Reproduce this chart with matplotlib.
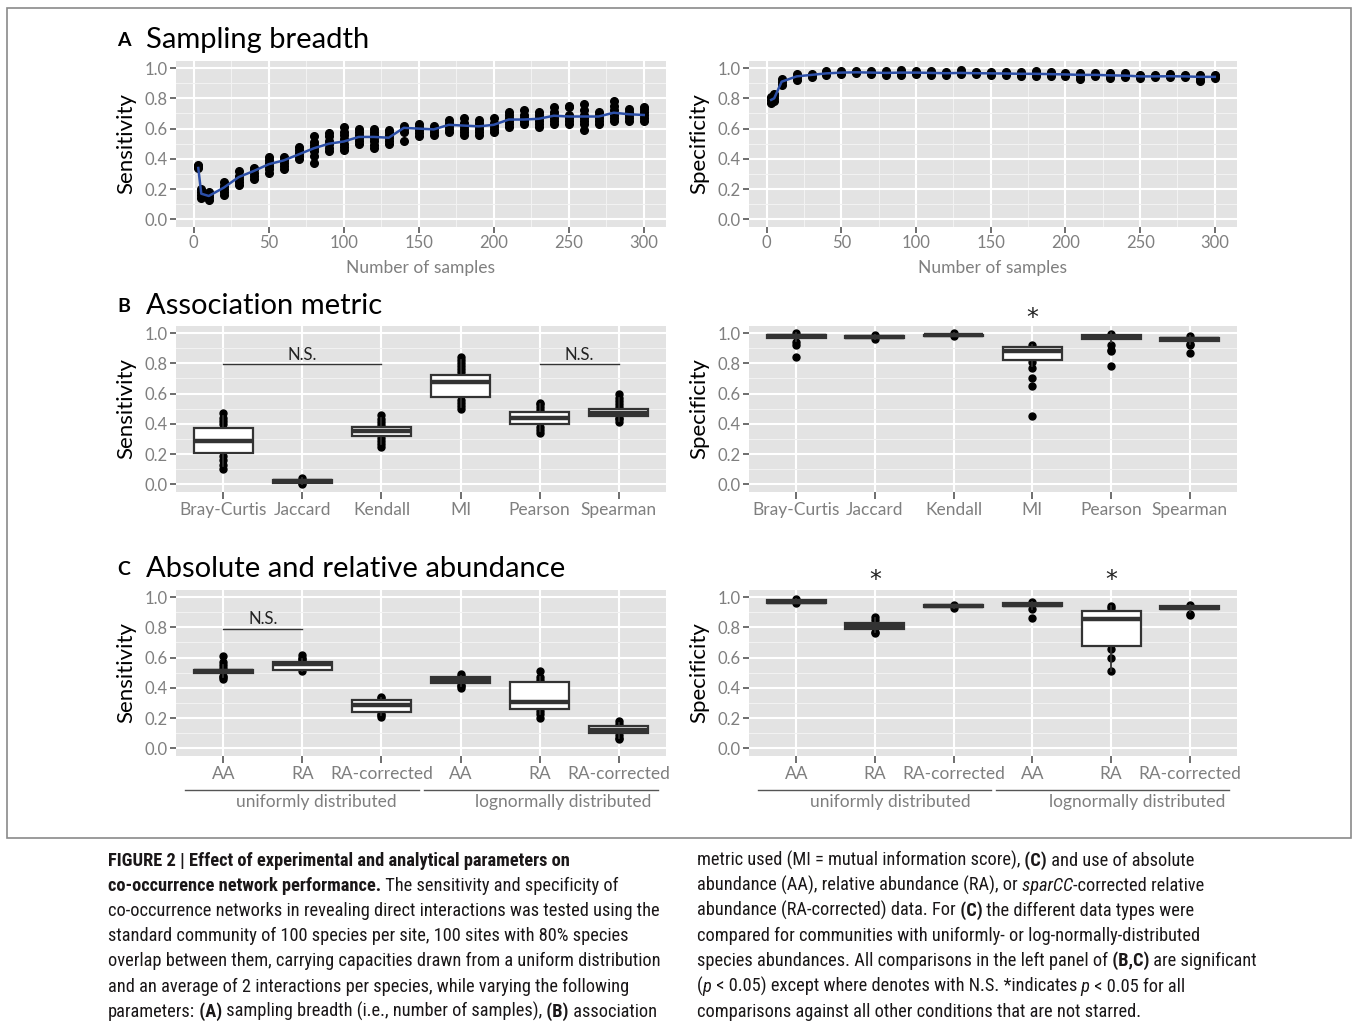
import matplotlib
matplotlib.use("Agg")
import matplotlib.pyplot as plt
import matplotlib.font_manager as fm
from matplotlib.patches import Rectangle
from matplotlib.ticker import MultipleLocator, FormatStrFormatter
import matplotlib.transforms as mtransforms

W, H = 1354, 1028
LABEL_FONT = ["Lato", "DejaVu Sans"]

# ---------------- data: panel A (sampling breadth) ----------------
n_samples = [3, 5, 10, 20, 30, 40, 50, 60, 70, 80, 90, 100, 110, 120, 130, 140,
             150, 160, 170, 180, 190, 200, 210, 220, 230, 240, 250, 260, 270, 280, 290, 300]

sens_mean = [0.34, 0.17, 0.155, 0.21, 0.28, 0.32, 0.365, 0.39, 0.43, 0.47, 0.50, 0.515,
             0.545, 0.545, 0.54, 0.605, 0.60, 0.595, 0.625, 0.62, 0.615, 0.625, 0.66, 0.66,
             0.665, 0.685, 0.68, 0.68, 0.68, 0.705, 0.695, 0.69]

sens_runs = [
    [0.34, 0.35, 0.36],
    [0.14, 0.16, 0.18, 0.20],
    [0.13, 0.15, 0.17, 0.18],
    [0.16, 0.18, 0.20, 0.22, 0.25],
    [0.23, 0.25, 0.27, 0.29, 0.32],
    [0.27, 0.29, 0.31, 0.33, 0.34],
    [0.31, 0.33, 0.35, 0.37, 0.39, 0.41],
    [0.33, 0.35, 0.37, 0.39, 0.41],
    [0.40, 0.42, 0.44, 0.46, 0.48],
    [0.37, 0.42, 0.45, 0.47, 0.49, 0.51, 0.55],
    [0.45, 0.47, 0.50, 0.52, 0.55, 0.57],
    [0.46, 0.48, 0.50, 0.53, 0.56, 0.58, 0.61],
    [0.50, 0.52, 0.54, 0.56, 0.58, 0.60],
    [0.47, 0.49, 0.52, 0.54, 0.56, 0.58, 0.60],
    [0.50, 0.52, 0.54, 0.56, 0.58, 0.59],
    [0.52, 0.58, 0.60, 0.62],
    [0.55, 0.57, 0.59, 0.61, 0.63],
    [0.56, 0.58, 0.60, 0.62],
    [0.58, 0.60, 0.62, 0.64, 0.66],
    [0.56, 0.58, 0.60, 0.62, 0.64, 0.67],
    [0.56, 0.58, 0.60, 0.62, 0.64, 0.66],
    [0.58, 0.60, 0.62, 0.64, 0.67],
    [0.61, 0.63, 0.65, 0.67, 0.69, 0.71],
    [0.63, 0.65, 0.67, 0.69, 0.72],
    [0.61, 0.63, 0.65, 0.67, 0.69, 0.71],
    [0.63, 0.65, 0.67, 0.69, 0.71, 0.74],
    [0.63, 0.65, 0.67, 0.69, 0.74, 0.75],
    [0.59, 0.63, 0.65, 0.67, 0.69, 0.72, 0.76],
    [0.63, 0.65, 0.67, 0.69, 0.71],
    [0.65, 0.67, 0.69, 0.72, 0.75, 0.78],
    [0.65, 0.67, 0.69, 0.71, 0.73],
    [0.65, 0.67, 0.69, 0.71, 0.73, 0.74],
]

spec_mean = [0.79, 0.80, 0.91, 0.945, 0.955, 0.965, 0.97, 0.972, 0.97, 0.968, 0.97, 0.97,
             0.968, 0.966, 0.968, 0.966, 0.965, 0.964, 0.962, 0.962, 0.96, 0.958, 0.955,
             0.955, 0.952, 0.95, 0.945, 0.945, 0.946, 0.945, 0.942, 0.942]

spec_runs = [
    [0.77, 0.79, 0.81],
    [0.78, 0.80, 0.82, 0.83],
    [0.89, 0.91, 0.93],
    [0.92, 0.94, 0.96],
    [0.94, 0.95, 0.96],
    [0.955, 0.965, 0.98],
    [0.96, 0.97, 0.98],
    [0.965, 0.975, 0.98],
    [0.96, 0.97, 0.98],
    [0.955, 0.965, 0.98],
    [0.955, 0.97, 0.985],
    [0.96, 0.97, 0.98],
    [0.955, 0.965, 0.98],
    [0.955, 0.965, 0.975],
    [0.96, 0.97, 0.985],
    [0.96, 0.965, 0.975],
    [0.955, 0.965, 0.975],
    [0.955, 0.965, 0.975],
    [0.95, 0.96, 0.975],
    [0.95, 0.965, 0.98],
    [0.95, 0.96, 0.975],
    [0.95, 0.96, 0.97],
    [0.93, 0.945, 0.96, 0.97],
    [0.945, 0.955, 0.965],
    [0.935, 0.95, 0.965],
    [0.94, 0.95, 0.965],
    [0.935, 0.945, 0.955],
    [0.94, 0.945, 0.955],
    [0.94, 0.95, 0.96],
    [0.94, 0.945, 0.955],
    [0.915, 0.93, 0.945, 0.955],
    [0.935, 0.945, 0.955],
]

# ---------------- data: panel B (association metric) ----------------
metrics = ["Bray-Curtis", "Jaccard", "Kendall", "MI", "Pearson", "Spearman"]

b_sens_q1 = [0.21, 0.010, 0.32, 0.58, 0.40, 0.45]
b_sens_med = [0.29, 0.020, 0.355, 0.68, 0.44, 0.47]
b_sens_q3 = [0.37, 0.030, 0.38, 0.72, 0.48, 0.50]
b_sens_lo = [0.12, 0.00, 0.27, 0.51, 0.35, 0.42]
b_sens_hi = [0.45, 0.04, 0.44, 0.82, 0.53, 0.57]
b_sens_pts = [
    [0.10, 0.13, 0.16, 0.19, 0.40, 0.42, 0.44, 0.47],
    [0.00, 0.01, 0.02, 0.03, 0.04],
    [0.25, 0.27, 0.29, 0.31, 0.39, 0.41, 0.43, 0.46],
    [0.50, 0.52, 0.54, 0.56, 0.74, 0.76, 0.78, 0.80, 0.82, 0.84],
    [0.34, 0.36, 0.38, 0.49, 0.51, 0.53, 0.54],
    [0.41, 0.43, 0.44, 0.51, 0.53, 0.55, 0.57, 0.60],
]

b_spec_q1 = [0.97, 0.970, 0.980, 0.82, 0.96, 0.95]
b_spec_med = [0.98, 0.975, 0.985, 0.88, 0.975, 0.96]
b_spec_q3 = [0.99, 0.980, 0.990, 0.91, 0.99, 0.97]
b_spec_lo = [0.95, 0.96, 0.98, 0.78, 0.94, 0.93]
b_spec_hi = [1.00, 0.99, 1.00, 0.92, 1.00, 0.98]
b_spec_pts = [
    [0.84, 0.92, 0.94, 1.00],
    [0.96, 0.99],
    [0.98, 1.00],
    [0.45, 0.65, 0.70, 0.77, 0.81, 0.92],
    [0.78, 0.88, 0.89, 0.92, 0.995],
    [0.87, 0.92, 0.93, 0.98],
]

# ---------------- data: panel C (absolute / relative abundance) ----------------
data_types = ["AA", "RA", "RA-corrected", "AA", "RA", "RA-corrected"]
distributions = ["uniformly distributed", "lognormally distributed"]

c_sens_q1 = [0.50, 0.52, 0.24, 0.43, 0.26, 0.10]
c_sens_med = [0.51, 0.555, 0.29, 0.45, 0.31, 0.12]
c_sens_q3 = [0.52, 0.57, 0.32, 0.47, 0.44, 0.15]
c_sens_lo = [0.47, 0.51, 0.22, 0.41, 0.23, 0.07]
c_sens_hi = [0.55, 0.59, 0.33, 0.48, 0.47, 0.17]
c_sens_pts = [
    [0.46, 0.47, 0.48, 0.53, 0.55, 0.57, 0.61],
    [0.51, 0.58, 0.59, 0.60, 0.62],
    [0.21, 0.22, 0.23, 0.33, 0.34],
    [0.40, 0.41, 0.42, 0.48, 0.49],
    [0.20, 0.23, 0.25, 0.45, 0.47, 0.51],
    [0.06, 0.07, 0.09, 0.16, 0.18],
]

c_spec_q1 = [0.96, 0.79, 0.935, 0.94, 0.68, 0.92]
c_spec_med = [0.97, 0.81, 0.94, 0.95, 0.855, 0.93]
c_spec_q3 = [0.98, 0.83, 0.95, 0.96, 0.91, 0.94]
c_spec_lo = [0.96, 0.77, 0.93, 0.92, 0.51, 0.90]
c_spec_hi = [0.99, 0.86, 0.95, 0.97, 0.94, 0.95]
c_spec_pts = [
    [0.96, 0.99],
    [0.76, 0.77, 0.85, 0.87],
    [0.93, 0.95],
    [0.86, 0.92, 0.97],
    [0.51, 0.60, 0.66, 0.93, 0.94],
    [0.88, 0.89, 0.95],
]

# ---------------- caption ----------------
caption_left = [
    [("FIGURE 2 | Effect of experimental and analytical parameters on", "b")],
    [("co-occurrence network performance.", "b"), (" The sensitivity and specificity of", "n")],
    [("co-occurrence networks in revealing direct interactions was tested using the", "n")],
    [("standard community of 100 species per site, 100 sites with 80% species", "n")],
    [("overlap between them, carrying capacities drawn from a uniform distribution", "n")],
    [("and an average of 2 interactions per species, while varying the following", "n")],
    [("parameters:", "n"), (" (A)", "b"), (" sampling breadth (i.e., number of samples),", "n"),
     (" (B)", "b"), (" association", "n")],
]
caption_right = [
    [("metric used (MI = mutual information score),", "n"), (" (C)", "b"),
     (" and use of absolute", "n")],
    [("abundance (AA), relative abundance (RA), or", "n"), (" sparCC", "i"),
     ("-corrected relative", "n")],
    [("abundance (RA-corrected) data. For", "n"), (" (C)", "b"),
     (" the different data types were", "n")],
    [("compared for communities with uniformly- or log-normally-distributed", "n")],
    [("species abundances. All comparisons in the left panel of", "n"), (" (B,C)", "b"),
     (" are significant", "n")],
    [("(", "n"), ("p", "i"), (" < 0.05) except where denotes with N.S. *indicates", "n"),
     (" p", "i"), (" < 0.05 for all", "n")],
    [("comparisons against all other conditions that are not starred.", "n")],
]


def pick_caption_font():
    # narrow sans for the caption, whichever is installed
    fonts = fm.fontManager.ttflist
    names = {f.name for f in fonts}
    for nm in ["Liberation Sans Narrow", "Roboto Condensed", "Open Sans Condensed",
               "Arial Narrow", "Nimbus Sans Narrow"]:
        if nm in names:
            return nm, "normal"
    for f in fonts:
        if f.name == "DejaVu Sans" and "condensed" in str(f.stretch):
            return "DejaVu Sans", "condensed"
    return "Roboto", "normal"


CAP_FAMILY, CAP_STRETCH = pick_caption_font()


def px_axes(fig, left, top, right, bottom):
    return fig.add_axes([left / W, 1 - bottom / H, (right - left) / W, (bottom - top) / H])


def gg_style(ax, ylabel):
    ax.set_facecolor("#E3E3E3")
    for s in ax.spines.values():
        s.set_visible(False)
    ax.set_axisbelow(True)
    ax.set_ylim(-0.05, 1.05)
    ax.yaxis.set_major_locator(MultipleLocator(0.2))
    ax.yaxis.set_minor_locator(MultipleLocator(0.1))
    ax.yaxis.set_major_formatter(FormatStrFormatter("%.1f"))
    ax.grid(True, which="major", color="white", lw=1.5)
    ax.grid(True, which="minor", color="#F2F2F2", lw=0.8)
    ax.tick_params(which="major", length=4, width=1.2, color="#555555",
                   labelcolor="#7F7F7F", labelsize=12, pad=2)
    ax.tick_params(which="minor", length=0)
    for lab in ax.get_xticklabels() + ax.get_yticklabels():
        lab.set_family(LABEL_FONT)
    ax.set_ylabel(ylabel, fontsize=16, family=LABEL_FONT, color="black", labelpad=6)


def scatter_panel(ax, x, runs, mean, ylabel):
    for xi, vals in zip(x, runs):
        ax.plot([xi] * len(vals), vals, "o", color="black", ms=5.5, zorder=2)
    ax.plot(x, mean, color="#2C4FA8", lw=1.8, zorder=3)
    ax.set_xlim(-11.85, 314.85)
    ax.xaxis.set_major_locator(MultipleLocator(50))
    ax.xaxis.set_minor_locator(MultipleLocator(25))
    gg_style(ax, ylabel)
    ax.set_xlabel("Number of samples", fontsize=12.5, color="#7F7F7F",
                  family=LABEL_FONT, labelpad=6)


def box_panel(ax, labels, q1, med, q3, lo, hi, pts, ylabel):
    pos = list(range(1, len(labels) + 1))
    for p, vals in zip(pos, pts):
        ax.plot([p] * len(vals), vals, "o", color="black", ms=5, zorder=2)
    stats = [dict(q1=a, med=m, q3=b, whislo=l, whishi=h, label=t)
             for a, m, b, l, h, t in zip(q1, med, q3, lo, hi, labels)]
    ax.bxp(stats, positions=pos, widths=0.75, patch_artist=True, showfliers=False,
           showcaps=False, manage_ticks=False, zorder=3,
           boxprops=dict(facecolor="white", edgecolor="#333333", linewidth=1.6),
           medianprops=dict(color="#333333", linewidth=3.2),
           whiskerprops=dict(color="#333333", linewidth=1.3))
    ax.set_xlim(0.4, len(labels) + 0.6)
    ax.set_xticks(pos)
    ax.set_xticklabels(labels)
    gg_style(ax, ylabel)
    ax.grid(False, axis="x", which="minor")
    ax.tick_params(axis="x", labelsize=12.5, length=5)


def ns_bar(ax, x0, x1, y):
    ax.plot([x0, x1], [y, y], color="#333333", lw=1, zorder=4)
    ax.text((x0 + x1) / 2, y + 0.01, "N.S.", ha="center", va="bottom", fontsize=12,
            family=LABEL_FONT, color="#222222")


def star(ax, x, y):
    ax.text(x, y, "*", ha="center", va="center", fontsize=17, family="DejaVu Sans",
            color="#222222", clip_on=False)


def group_lines(ax, text_x):
    tr = mtransforms.blended_transform_factory(ax.transData, ax.transAxes)
    for (x0, x1), tx, name in zip([(0.52, 3.47), (3.54, 6.5)], text_x, distributions):
        ax.plot([x0, x1], [-0.205, -0.205], transform=tr, color="#555555", lw=1,
                clip_on=False)
        ax.text(tx, -0.275, name, transform=tr, ha="center", va="center", fontsize=12.5,
                color="#7F7F7F", family=LABEL_FONT)


def caption_line(ax, x, y, segs, size):
    made = []
    prev = None
    for s, st in segs:
        kw = dict(fontsize=size, family=[CAP_FAMILY, "DejaVu Sans"], fontstretch=CAP_STRETCH,
                  color="#1A1718",
                  fontweight="bold" if st == "b" else "normal",
                  fontstyle="italic" if st == "i" else "normal")
        if prev is None:
            prev = ax.text(x, y, s, va="baseline", ha="left", **kw)
        else:
            prev = ax.annotate(s, xy=(1, 0), xycoords=prev, va="bottom", ha="left", **kw)
        made.append(prev)
    return made


def caption(fig, ax, size):
    made = []
    for i, segs in enumerate(caption_left):
        made.append(caption_line(ax, 108, 866 + 25.1 * i, segs, size))
    for i, segs in enumerate(caption_right):
        made.append(caption_line(ax, 697, 866 + 25.1 * i, segs, size))
    return made


fig = plt.figure(figsize=(W / 100, H / 100), dpi=100)
bg = fig.add_axes([0, 0, 1, 1])
bg.set_xlim(0, W)
bg.set_ylim(H, 0)
bg.axis("off")
bg.add_patch(Rectangle((7, 8), 1344, 830, fill=False, edgecolor="#8A8A8A", lw=1.2))

# panel titles
for letter, title, yb in [("A", "Sampling breadth", 48), ("B", "Association metric", 314),
                          ("C", "Absolute and relative abundance", 577)]:
    bg.text(117, yb - 2, letter, fontsize=14, fontweight="bold", family=LABEL_FONT,
            va="baseline")
    bg.text(146, yb, title, fontsize=21, family=LABEL_FONT, va="baseline")

axA1 = px_axes(fig, 176, 60.5, 666, 227)
scatter_panel(axA1, n_samples, sens_runs, sens_mean, "Sensitivity")
axA2 = px_axes(fig, 749, 60.5, 1237, 227)
scatter_panel(axA2, n_samples, spec_runs, spec_mean, "Specificity")

axB1 = px_axes(fig, 176, 325.5, 666, 492)
box_panel(axB1, metrics, b_sens_q1, b_sens_med, b_sens_q3, b_sens_lo, b_sens_hi,
          b_sens_pts, "Sensitivity")
ns_bar(axB1, 1, 3, 0.795)
ns_bar(axB1, 5, 6, 0.795)
axB2 = px_axes(fig, 749, 325.5, 1237, 492)
box_panel(axB2, metrics, b_spec_q1, b_spec_med, b_spec_q3, b_spec_lo, b_spec_hi,
          b_spec_pts, "Specificity")
star(axB2, 4, 1.10)

axC1 = px_axes(fig, 176, 589.5, 666, 756)
box_panel(axC1, data_types, c_sens_q1, c_sens_med, c_sens_q3, c_sens_lo, c_sens_hi,
          c_sens_pts, "Sensitivity")
ns_bar(axC1, 1, 2, 0.79)
group_lines(axC1, [2.17, 5.30])
axC2 = px_axes(fig, 749, 589.5, 1237, 756)
box_panel(axC2, data_types, c_spec_q1, c_spec_med, c_spec_q3, c_spec_lo, c_spec_hi,
          c_spec_pts, "Specificity")
star(axC2, 2, 1.11)
star(axC2, 5, 1.11)
group_lines(axC2, [2.20, 5.33])

# caption: draw once, measure the third left-column line, then redraw so it spans the column
base = 13.0
trial = caption(fig, bg, base)
fig.canvas.draw()
r = fig.canvas.get_renderer()
ref_line = trial[2]
width = ref_line[-1].get_window_extent(r).x1 - ref_line[0].get_window_extent(r).x0
for line in trial:
    for t in line:
        t.remove()
size = min(15.0, base * 548.0 / width)
caption(fig, bg, size)

fig.savefig("out.png", dpi=100)
